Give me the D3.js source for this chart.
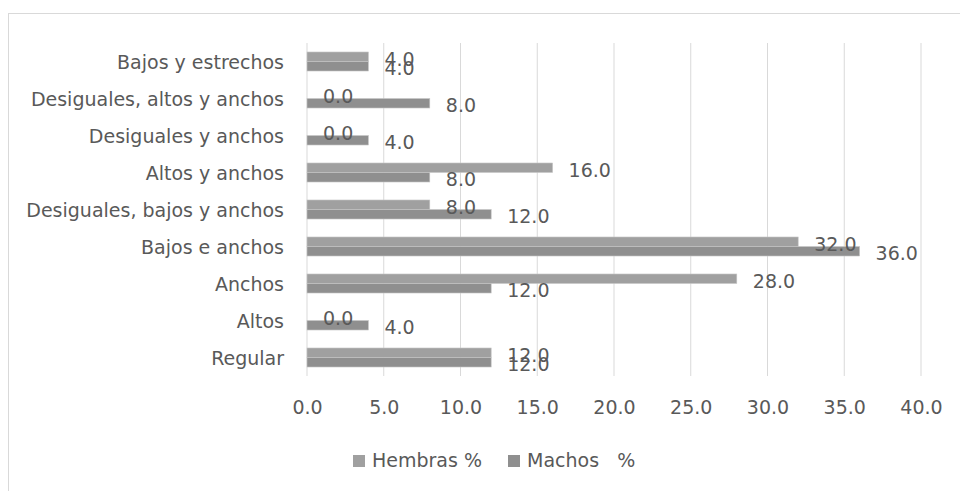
<!DOCTYPE html>
<html>
<head>
<meta charset="utf-8">
<script src="https://cdn.jsdelivr.net/npm/d3@7"></script>
<style>
  body { margin: 0; background: #fff; }
  svg text { font-family: "DejaVu Sans", sans-serif; fill: #595959; }
</style>
</head>
<body>
<svg id="chart" width="960" height="491"></svg>
<script>
// categorías de abajo hacia arriba, como en Excel
const categories = ["Regular", "Altos", "Anchos", "Bajos e anchos", "Desiguales, bajos y anchos",
                    "Altos y anchos", "Desiguales y anchos", "Desiguales, altos y anchos", "Bajos y estrechos"];
const hembras = [12, 0, 28, 32, 8, 16, 0, 0, 4];
const machos  = [12, 4, 12, 36, 12, 8, 4, 8, 4];
const xTicks = [0, 5, 10, 15, 20, 25, 30, 35, 40];
const seriesNames = ["Hembras %", "Machos   %"];
const seriesColors = ["#a0a0a0", "#8f8f8f"];

const plot = {left: 307, right: 921, top: 43, bottom: 376};
const fontSize = "19px";
const svg = d3.select("#chart");

// marco del gráfico
svg.append("rect")
    .attr("x", 8.5).attr("y", 13.5)
    .attr("width", 1000).attr("height", 600)
    .attr("fill", "none")
    .attr("stroke", "#d9d9d9");

const x = d3.scaleLinear().domain([0, 40]).range([plot.left, plot.right]);
const y = d3.scaleBand()
    .domain(categories.slice().reverse())
    .range([plot.top, plot.bottom])
    .paddingInner(0.486)
    .paddingOuter(0.243);
const ySub = d3.scaleBand().domain([0, 1]).range([0, y.bandwidth()]);

// líneas de cuadrícula
svg.append("g")
    .selectAll("line")
    .data(xTicks.slice(1))
    .join("line")
    .attr("x1", d => x(d)).attr("x2", d => x(d))
    .attr("y1", plot.top).attr("y2", plot.bottom)
    .attr("stroke", "#d9d9d9")
    .attr("stroke-width", 1);

// eje de categorías
svg.append("line")
    .attr("x1", x(0)).attr("x2", x(0))
    .attr("y1", plot.top).attr("y2", plot.bottom)
    .attr("stroke", "#d9d9d9");

const rows = categories.map((c, i) => ({cat: c, vals: [hembras[i], machos[i]]}));

const groups = svg.append("g")
    .selectAll("g")
    .data(rows)
    .join("g")
    .attr("transform", d => `translate(0,${y(d.cat)})`);

groups.selectAll("rect")
    .data(d => d.vals.map((v, s) => ({v, s})))
    .join("rect")
    .attr("x", x(0))
    .attr("y", d => ySub(d.s))
    .attr("width", d => x(d.v) - x(0))
    .attr("height", ySub.bandwidth())
    .attr("fill", d => seriesColors[d.s])
    .attr("stroke", "#c6c6c6")
    .attr("stroke-width", 0.6);

groups.selectAll("text.val")
    .data(d => d.vals.map((v, s) => ({v, s})))
    .join("text")
    .attr("class", "val")
    .attr("x", d => x(d.v) + 16)
    .attr("y", d => ySub(d.s) + ySub.bandwidth() / 2 + 9)
    .attr("font-size", fontSize)
    .text(d => d3.format(".1f")(d.v));

// etiquetas de categorías
svg.append("g")
    .selectAll("text")
    .data(categories)
    .join("text")
    .attr("x", 284)
    .attr("y", d => y(d) + y.bandwidth() / 2 + 7)
    .attr("text-anchor", "end")
    .attr("font-size", fontSize)
    .text(d => d);

// etiquetas del eje x
const xAxis = svg.append("g")
    .attr("transform", `translate(0,${plot.bottom})`)
    .call(d3.axisBottom(x).tickValues(xTicks).tickFormat(d3.format(".1f")).tickSize(0).tickPadding(25));
xAxis.select(".domain").remove();
xAxis.selectAll("text")
    .attr("font-family", "DejaVu Sans")
    .attr("font-size", fontSize)
    .attr("fill", "#595959");

// leyenda
const legendX = [353, 508];
const legend = svg.append("g")
    .selectAll("g")
    .data(seriesNames)
    .join("g")
    .attr("transform", (d, i) => `translate(${legendX[i]},455)`);
legend.append("rect")
    .attr("width", 12).attr("height", 12)
    .attr("fill", (d, i) => seriesColors[i]);
legend.append("text")
    .attr("x", 19)
    .attr("y", 12)
    .attr("font-size", fontSize)
    .attr("xml:space", "preserve")
    .style("white-space", "pre")
    .text(d => d);
</script>
</body>
</html>
